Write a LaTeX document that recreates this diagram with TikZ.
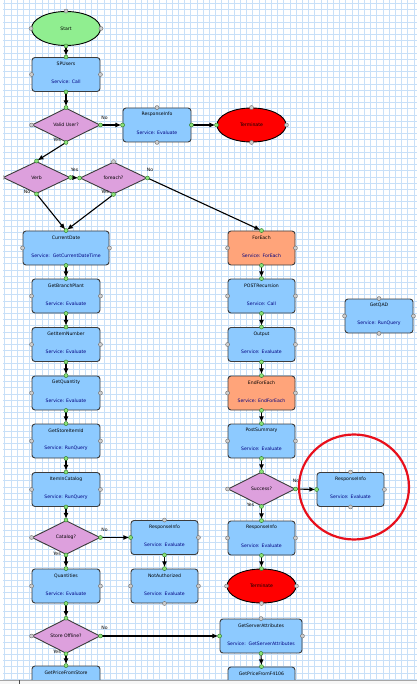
\documentclass[tikz,border=0pt]{standalone}
\usepackage{fontspec}
\newfontfamily\dv{DejaVu Sans}
\usetikzlibrary{shapes.geometric,arrows.meta}
\definecolor{boxblue}{RGB}{141,202,255}
\definecolor{boxorange}{RGB}{255,164,122}
\definecolor{plumc}{RGB}{221,160,221}
\definecolor{startgreen}{RGB}{144,238,144}
\definecolor{gridc}{RGB}{200,224,248}
\definecolor{edgec}{RGB}{60,60,60}
\definecolor{portg}{RGB}{140,225,120}
\definecolor{portgd}{RGB}{40,120,40}
\definecolor{portk}{RGB}{205,205,205}
\definecolor{portkd}{RGB}{110,110,110}
\definecolor{svcblue}{RGB}{0,0,128}
\definecolor{circred}{RGB}{232,16,28}
\tikzset{
  bluebox/.style={draw=edgec, line width=0.9pt, rounded corners=3pt, fill=boxblue, minimum height=34pt, inner sep=0pt},
  orangebox/.style={bluebox, fill=boxorange},
  decision/.style={diamond, draw=edgec, line width=0.9pt, fill=plumc, minimum width=68pt, minimum height=34pt, inner sep=0pt, font=\dv\fontsize{4.6}{5}\selectfont},
  terminal/.style={ellipse, draw=black, line width=0.9pt, minimum width=69pt, minimum height=34pt, inner sep=0pt, font=\dv\fontsize{4.6}{5}\selectfont},
  ttl/.style={font=\dv\fontsize{4.6}{5}\selectfont, text=black, inner sep=0pt},
  svc/.style={font=\dv\fontsize{4.6}{5}\selectfont, text=svcblue, inner sep=0pt},
  yn/.style={font=\dv\fontsize{4.6}{5}\selectfont, text=black, inner sep=0pt},
  flow/.style={line width=1.1pt, black, -{Latex[length=6pt,width=5pt]}, shorten >=1.2pt},
  pg/.style={fill=portg, draw=portgd, line width=0.4pt},
  pk/.style={fill=portk, draw=portkd, line width=0.4pt},
}
\newcommand\mybox[7][bluebox]{%
  \node[#1, minimum width=#5pt] (#2) at (#3,#4) {};
  \node[ttl] (#2-t) at ([yshift=-7pt]#2.north) {#6};
  \node[svc] (#2-s) at ([yshift=-25pt]#2.north) {#7};
}
\newcommand\myboxcut[6][bluebox]{%
  \node[#1, minimum width=#5pt] (#2) at (#3,#4) {};
  \node[ttl] (#2-t) at ([yshift=-7pt]#2.north) {#6};
}
% ports: name, north, east, south, west (pg or pk)
\newcommand\ports[5]{%
  \draw[#2] (#1.north) circle (2pt);
  \draw[#3] (#1.east) circle (2pt);
  \draw[#4] (#1.south) circle (2pt);
  \draw[#5] (#1.west) circle (2pt);
}
\begin{document}
\begin{tikzpicture}[x=1pt,y=-1pt]
\useasboundingbox (0,0) rectangle (417,684);
\fill[white] (0,0) rectangle (417,684);
\begin{scope}
\clip (3,0) rectangle (417,679.5);
\foreach \i in {0,...,67} \draw[gridc, line width=0.6pt] (4.7+\i*6.2,0) -- (4.7+\i*6.2,680);
\foreach \i in {0,...,110} \draw[gridc, line width=0.6pt] (0,3.3+\i*6.2) -- (417,3.3+\i*6.2);

% ---------- nodes ----------
\node[terminal, fill=startgreen] (start) at (66,28.5) {Start};
\mybox{spu}{66}{74.5}{68}{SPUsers}{Service: Call}
\node[decision] (valid) at (66,125) {Valid User?};
\mybox{resp1}{157}{125}{68}{ResponseInfo}{Service: Evaluate}
\node[terminal, fill=red] (term1) at (251.5,125) {Terminate};
\node[decision, minimum width=67pt, minimum height=32pt] (verb) at (36.5,177.5) {Verb};
\node[decision, minimum width=67pt, minimum height=32pt] (foreach) at (113.5,178) {foreach?};
\mybox{curdate}{66}{248}{86}{CurrentDate}{Service:\ \ GetCurrentDateTime}
\mybox[orangebox]{forEach}{261.5}{248}{67}{ForEach}{Service: ForEach}
\mybox{branch}{66}{296}{68}{GetBranchPlant}{Service: Evaluate}
\mybox{itemnum}{66}{344.5}{68}{GetItemNumber}{Service: Evaluate}
\mybox{qty}{66}{393}{68}{GetQuantity}{Service: Evaluate}
\mybox{storeitem}{66}{441}{68}{GetStoreItemId}{Service: RunQuery}
\mybox{incat}{66}{489.5}{68}{ItemInCatalog}{Service: RunQuery}
\node[decision] (catalog) at (66,537.5) {Catalog?};
\mybox{resp2}{164.5}{537.5}{67}{ResponseInfo}{Service: Evaluate}
\mybox{quant}{66}{586}{68}{Quantities}{Service: Evaluate}
\mybox{notauth}{164.5}{586}{67}{NotAuthorized}{Service: Evaluate}
\node[decision] (offline) at (66,636) {Store Offline?};
\myboxcut{pricestore}{66}{683}{68}{GetPriceFromStore}

\mybox{postrec}{261.5}{296}{67}{POSTRecursion}{Service: Call}
\mybox{output}{261.5}{344.5}{67}{Output}{Service: Evaluate}
\mybox[orangebox]{endfor}{261.5}{393}{67}{EndForEach}{Service: EndForEach}
\mybox{postsum}{261.5}{441}{67}{PostSummary}{Service: Evaluate}
\node[decision, minimum width=67pt] (success) at (261.5,489) {Success?};
\mybox{resp3}{350.5}{489.5}{67}{ResponseInfo}{Service: Evaluate}
\mybox{resp4}{261.5}{538}{67}{ResponseInfo}{Service: Evaluate}
\node[terminal, fill=red] (term2) at (261.5,586) {Terminate};
\mybox{servattr}{261}{636}{82}{GetServerAttributes}{Service:\ \ GetServerAttributes}
\myboxcut{pricef}{261.5}{684}{67}{GetPriceFromF4106}
\mybox{qad}{379}{316}{68}{GetQAD}{Service: RunQuery}

% ---------- connectors ----------
\draw[flow] (start.south) -- (spu.north);
\draw[flow] (spu.south) -- (valid.north);
\draw[flow] (valid.east) -- (resp1.west);
\draw[flow] (resp1.east) -- (term1.west);
\draw[flow] (valid.south) -- (verb.north);
\draw[flow] (verb.east) -- (foreach.west);
\draw[flow] (verb.south) -- (curdate.north);
\draw[flow] (foreach.south) -- (curdate.north);
\draw[flow] (foreach.east) -- (forEach.north);
\draw[flow] (curdate.south) -- (branch.north);
\draw[flow] (branch.south) -- (itemnum.north);
\draw[flow] (itemnum.south) -- (qty.north);
\draw[flow] (qty.south) -- (storeitem.north);
\draw[flow] (storeitem.south) -- (incat.north);
\draw[flow] (incat.south) -- (catalog.north);
\draw[flow] (catalog.east) -- (resp2.west);
\draw[flow] (resp2.south) -- (notauth.north);
\draw[flow] (catalog.south) -- (quant.north);
\draw[flow] (quant.south) -- (offline.north);
\draw[flow] (offline.south) -- (pricestore.north);
\draw[flow] (offline.east) -- (servattr.west);
\draw[flow] (servattr.south) -- (pricef.north);
\draw[flow] (forEach.south) -- (postrec.north);
\draw[flow] (postrec.south) -- (output.north);
\draw[flow] (output.south) -- (endfor.north);
\draw[flow] (endfor.south) -- (postsum.north);
\draw[flow] (postsum.south) -- (success.north);
\draw[flow] (success.east) -- (resp3.west);
\draw[flow] (success.south) -- (resp4.north);
\draw[flow] (resp4.south) -- (term2.north);

% ---------- yes / no labels ----------
\node[yn] (l1) at (104.5,117.5) {No};
\node[yn] (l2) at (57,139.5) {Yes};
\node[yn] (l3) at (74.5,170) {Yes};
\node[yn] (l4) at (27,192) {No};
\node[yn] (l5) at (105,192) {Yes};
\node[yn] (l6) at (150,170) {No};
\node[yn] (l7) at (104.5,530) {No};
\node[yn] (l8) at (57,553.5) {Yes};
\node[yn] (l9) at (104.5,628) {No};
\node[yn] (l10) at (57,652) {Yes};
\node[yn] (l11) at (296,481) {No};
\node[yn] (l12) at (250.5,504.5) {Yes};

% ---------- ports ----------
\draw[pk] (start.north) circle (2pt);
\draw[pk] (start.east) circle (2pt);
\draw[pg] (start.south) circle (2pt);
\draw[pk] (start.west) circle (2pt);
\ports{spu}{pg}{pk}{pg}{pk}
\ports{valid}{pg}{pg}{pg}{pk}
\ports{resp1}{pk}{pg}{pk}{pg}
\ports{term1}{pk}{pk}{pk}{pg}
\ports{verb}{pg}{pg}{pg}{pk}
\ports{foreach}{pk}{pg}{pg}{pg}
\ports{curdate}{pg}{pk}{pg}{pk}
\ports{forEach}{pg}{pk}{pg}{pk}
\ports{branch}{pg}{pk}{pg}{pk}
\ports{itemnum}{pg}{pk}{pg}{pk}
\ports{qty}{pg}{pk}{pg}{pk}
\ports{storeitem}{pg}{pk}{pg}{pk}
\ports{incat}{pg}{pk}{pg}{pk}
\ports{catalog}{pg}{pg}{pg}{pk}
\ports{resp2}{pk}{pk}{pg}{pg}
\ports{quant}{pg}{pk}{pg}{pk}
\ports{notauth}{pg}{pk}{pk}{pk}
\ports{offline}{pg}{pg}{pg}{pk}
\draw[pg] (pricestore.north) circle (2pt);
\ports{postrec}{pg}{pk}{pg}{pk}
\ports{output}{pg}{pk}{pg}{pk}
\ports{endfor}{pg}{pk}{pg}{pk}
\ports{postsum}{pg}{pk}{pg}{pk}
\ports{success}{pg}{pg}{pg}{pk}
\ports{resp3}{pk}{pk}{pk}{pg}
\ports{resp4}{pg}{pk}{pg}{pk}
\ports{term2}{pg}{pk}{pk}{pk}
\ports{servattr}{pk}{pk}{pg}{pg}
\draw[pg] (pricef.north) circle (2pt);
\ports{qad}{pk}{pk}{pk}{pk}

% ---------- highlight circle ----------
\draw[circred, line width=2.2pt] (354,487) ellipse [x radius=55pt, y radius=52.5pt];
\end{scope}

% bottom strip
\fill[white!94!gray] (0,680) rectangle (417,684);
\draw[gray!70, line width=0.6pt] (0,680.3) -- (417,680.3);
\draw[gray!60!black, line width=0.6pt] (19,680.3) -- (19,684);
\end{tikzpicture}
\end{document}
